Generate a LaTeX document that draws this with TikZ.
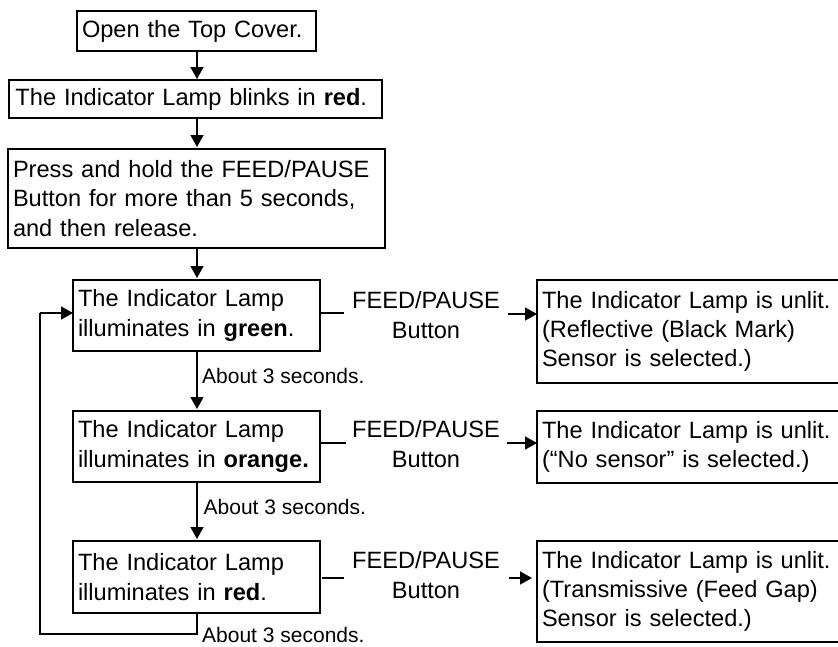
\documentclass[tikz,border=0pt]{standalone}
\usepackage{fontspec}
\setmainfont{Liberation Sans}
\usetikzlibrary{arrows.meta}
\tikzset{
  px/.style={x=1pt,y=-1pt},
  bx/.style={draw,line width=1.5pt,inner xsep=5pt,inner ysep=0pt,outer sep=0pt,anchor=west,align=left,
    font=\fontsize{23.6}{29.3}\selectfont},
  mid/.style={font=\fontsize{23.6}{30}\selectfont,align=center,inner sep=0pt},
  small/.style={font=\fontsize{21}{24}\selectfont,inner sep=0pt,anchor=base west},
  conn/.style={line width=1.4pt,-{Triangle[length=12pt,width=13pt]}},
  plain/.style={line width=1.4pt}
}
\begin{document}
\begin{tikzpicture}[px]
\useasboundingbox (0,0) rectangle (838,646);
\node[bx,text width=229pt,minimum height=40pt] (a) at (77,31) {Open the Top Cover.};
\node[bx,text width=360pt,minimum height=38pt,inner xsep=6.5pt] (b) at (9,99) {The Indicator Lamp blinks in \textbf{red}.};
\node[bx,text width=367pt,minimum height=99pt] (c) at (8,198.5) {Press and hold the FEED/PAUSE\\Button for more than 5 seconds,\\and then release.};
\node[bx,text width=237pt,minimum height=71pt] (d) at (73,315.5) {The Indicator Lamp\\illuminates in \textbf{green}.};
\node[bx,text width=237pt,minimum height=71pt] (e) at (73,446.5) {The Indicator Lamp\\illuminates in \textbf{orange.}};
\node[bx,text width=237pt,minimum height=72pt] (f) at (73,577) {The Indicator Lamp\\illuminates in \textbf{red}.};
\node[bx,text width=293pt,minimum height=103pt] (g) at (537,331.5) {The Indicator Lamp is unlit.\\(Reflective (Black Mark)\\Sensor is selected.)};
\node[bx,text width=293pt,minimum height=72pt] (h) at (537,447) {The Indicator Lamp is unlit.\\(“No sensor” is selected.)};
\node[bx,text width=293pt,minimum height=101pt] (i) at (537,591.5) {The Indicator Lamp is unlit.\\(Transmissive (Feed Gap)\\Sensor is selected.)};
\node[mid] (m1) at (426,315) {FEED/PAUSE\\Button};
\node[mid] (m2) at (426,444) {FEED/PAUSE\\Button};
\node[mid] (m3) at (426,575) {FEED/PAUSE\\Button};
\coordinate (cx) at (197,0);
\draw[conn] (a.south -| cx) -- ([yshift=1pt]b.north -| cx);
\draw[conn] (b.south -| cx) -- ([yshift=2pt]c.north -| cx);
\draw[conn] (c.south -| cx) -- ([yshift=2pt]d.north -| cx);
\draw[conn] (d.south -| cx) -- ([yshift=2pt]e.north -| cx);
\draw[conn] (e.south -| cx) -- ([yshift=2pt]f.north -| cx);
\coordinate (s1) at (344,313); \coordinate (s2) at (346,443); \coordinate (s3) at (344,578);
\coordinate (t1) at (508,314); \coordinate (t2) at (507,443); \coordinate (t3) at (509,578);
\coordinate (u3) at (532,578);
\draw[plain] (d.east |- s1) -- (s1);
\draw[plain] (e.east |- s2) -- (s2);
\draw[plain] (f.east |- s3) ++(2,0) -- (s3);
\draw[conn] (t1) -- (g.west |- t1);
\draw[conn] (t2) -- (h.west |- t2);
\draw[conn] (t3) -- (u3);
\coordinate (l1) at (40,634);
\coordinate (l2) at (40,313);
\draw[plain] (f.south -| cx) -- (cx |- l1) -- (l1) -- (l2);
\draw[conn] (l2) -- (d.west |- l2);
\node[small] (n1) at (202,383) {About 3 seconds.};
\node[small] (n2) at (203.5,514) {About 3 seconds.};
\node[small] (n3) at (202,642.5) {About 3 seconds.};
\end{tikzpicture}
\end{document}
